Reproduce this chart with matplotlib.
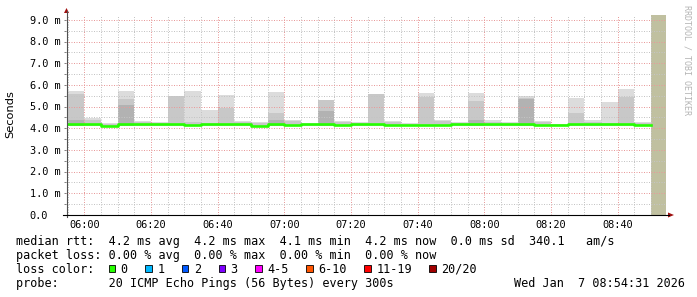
import matplotlib
matplotlib.use("Agg")
import matplotlib.pyplot as plt
import matplotlib.transforms as mtrans
import numpy as np
from matplotlib.patches import Polygon, Rectangle
from matplotlib.lines import Line2D

W, H = 697, 297
plt.rcParams["font.family"] = ["DejaVu Sans Mono"]

# time axis in minutes after 06:00, graph covers 05:54:31 .. 08:54:31
t_start = -5 - 29 / 60.0
t_end = 174 + 31 / 60.0
first_bin = -5          # 05:55, 5 minute steps
unknown_from = 170      # 08:50 -> now has no data yet

# per 5-min bin (05:55 .. 08:45), in ms
median = [4.20, 4.20, 4.13, 4.20, 4.20, 4.20, 4.20, 4.15, 4.20, 4.20,
          4.20, 4.13, 4.20, 4.15, 4.20, 4.20, 4.15, 4.20, 4.20, 4.15,
          4.15, 4.15, 4.17, 4.18, 4.20, 4.20, 4.18, 4.20, 4.15, 4.15,
          4.20, 4.20, 4.20, 4.20, 4.15]
smoke_hi = [5.72, 4.48, 4.25, 5.72, 4.35, 4.28, 5.50, 5.72, 4.85, 5.54,
            4.35, 4.28, 5.68, 4.38, 4.25, 5.31, 4.35, 4.28, 5.58, 4.35,
            4.25, 5.65, 4.38, 4.28, 5.65, 4.38, 4.30, 5.49, 4.32, 4.22,
            5.41, 4.38, 5.23, 5.81, 4.30]
smoke_mid = [5.60, 4.40, 4.22, 5.35, 4.30, 4.25, 5.50, 4.30, 4.25, 4.92,
             4.30, 4.25, 4.69, 4.33, 4.22, 5.31, 4.30, 4.25, 5.58, 4.30,
             4.22, 5.46, 4.33, 4.25, 5.28, 4.30, 4.25, 5.40, 4.28, 4.20,
             4.69, 4.30, 4.25, 5.43, 4.25]
smoke_dark = [4.40, 4.10, 4.10, 5.08, 4.10, 4.10, 4.10, 4.10, 4.10, 4.10,
              4.10, 4.10, 4.38, 4.10, 4.10, 4.80, 4.10, 4.10, 4.10, 4.10,
              4.10, 4.10, 4.10, 4.10, 4.40, 4.10, 4.10, 5.34, 4.10, 4.10,
              4.10, 4.10, 4.10, 4.10, 4.10]
smoke_lo = 4.10

y_max = 9.23
y_labels = ["0.0", "1.0 m", "2.0 m", "3.0 m", "4.0 m", "5.0 m",
            "6.0 m", "7.0 m", "8.0 m", "9.0 m"]
x_labels = ["06:00", "06:20", "06:40", "07:00", "07:20", "07:40",
            "08:00", "08:20", "08:40"]

loss_labels = ["0", "1", "2", "3", "4-5", "6-10", "11-19", "20/20"]
loss_colors = ["#26ff00", "#00b8ff", "#0059ff", "#7e00ff", "#ff00ff",
               "#ff5500", "#ff0000", "#a10000"]

legend_rtt = ("median rtt:  4.2 ms avg  4.2 ms max  4.1 ms min  "
              "4.2 ms now  0.0 ms sd  340.1   am/s")
legend_loss = "packet loss: 0.00 % avg  0.00 % max  0.00 % min  0.00 % now"
legend_probe = "probe:       20 ICMP Echo Pings (56 Bytes) every 300s"
stamp = "Wed Jan  7 08:54:31 2026"


def fx(x):
    return x / W


def fy(y):
    return 1 - y / H


fig = plt.figure(figsize=(W / 100, H / 100), dpi=100)
ax = fig.add_axes([fx(66), fy(215), 600 / W, 200 / H])
ax.set_xlim(t_start, t_end)
ax.set_ylim(0, y_max)
for s in ax.spines.values():
    s.set_visible(False)

n = len(median)
starts = first_bin + 5 * np.arange(n)
hi = np.array(smoke_hi)
mid = np.array(smoke_mid)
dk = np.array(smoke_dark)

# smoke
ax.bar(starts, hi - smoke_lo, bottom=smoke_lo, width=5, align="edge",
       color="#dcdcdc", linewidth=0, zorder=1)
ax.bar(starts, mid - smoke_lo, bottom=smoke_lo, width=5, align="edge",
       color="#c8c8c8", linewidth=0, zorder=1.1)
ax.bar(starts, dk - smoke_lo, bottom=smoke_lo, width=5, align="edge",
       color="#b2b2b2", linewidth=0, zorder=1.2)
ax.axvspan(unknown_from, t_end, color="#c0c0a0", lw=0, zorder=1.3)

# median rtt
edges = np.append(starts, starts[-1] + 5)
ax.step(edges, np.append(median, median[-1]), where="post",
        color=loss_colors[0], lw=1.9, zorder=4)

# grid (drawn over the data like rrdtool does)
ax.set_xticks(np.arange(0, 170, 20))
ax.set_xticks(np.arange(-5, 175, 5), minor=True)
ax.set_yticks(np.arange(0, 9.5, 1.0))
ax.set_yticks(np.arange(0, 9.5, 0.5), minor=True)
ax.set_axisbelow(False)
ax.grid(which="minor", color="#c4c4c4", lw=0.72, ls=(0, (1, 1.5)))
ax.grid(which="major", color="#e89a9a", lw=0.72, ls=(0, (1, 1.5)))
ax.tick_params(axis="x", which="both", length=0, labelbottom=False)
ax.tick_params(axis="y", which="both", direction="out", length=1.5,
               width=0.7, color="#808080", labelleft=False)

# tick labels
ylab_tr = mtrans.offset_copy(ax.get_yaxis_transform(), fig=fig, y=-3.7, units="dots")
for v, lab in zip(np.arange(0, 10, 1.0), y_labels):
    ax.text((29.5 - 66) / 600, v, lab, transform=ylab_tr, ha="left",
            va="baseline", fontsize=7.4, color="#000000")
for v, lab in zip(np.arange(0, 170, 20), x_labels):
    ax.text(v, (215 - 228.3) / 200, lab, transform=ax.get_xaxis_transform(),
            ha="center", va="baseline", fontsize=7.4)

# axes lines and arrows
fig.add_artist(Line2D([fx(66.5), fx(66.5)], [fy(217), fy(11)], color="#505050",
                      lw=0.8, transform=fig.transFigure))
fig.add_artist(Line2D([fx(63), fx(669)], [fy(215), fy(215)], color="#000000",
                      lw=0.8, transform=fig.transFigure))
fig.add_artist(Polygon([[fx(64), fy(13)], [fx(69), fy(13)], [fx(66.5), fy(8)]],
                       closed=True, color="#a01010", lw=0,
                       transform=fig.transFigure))
fig.add_artist(Polygon([[fx(668), fy(212.5)], [fx(668), fy(217.5)], [fx(674), fy(215)]],
                       closed=True, color="#a01010", lw=0,
                       transform=fig.transFigure))

# titles
fig.text(fx(10.5), fy(114), "Seconds", rotation=90, ha="center", va="center",
         fontsize=8.2, family="DejaVu Sans")
fig.text(fx(687.5), fy(5), "RRDTOOL / TOBI OETIKER", rotation=270, ha="center",
         va="top", fontsize=6.0, color="#b4b4b4")

# legend
cw = 7.12
fig.text(fx(16), fy(245), legend_rtt, fontsize=8.5, va="baseline")
fig.text(fx(16), fy(259), legend_loss, fontsize=8.5, va="baseline")
fig.text(fx(16), fy(273), "loss color:", fontsize=8.5, va="baseline")
c = 13.0
for lab, col in zip(loss_labels, loss_colors):
    x0 = 16 + c * cw
    fig.add_artist(Rectangle((fx(x0), fy(271.8)), 6.5 / W, 6.5 / H, facecolor=col,
                             edgecolor="#000000", lw=0.6,
                             transform=fig.transFigure))
    fig.text(fx(x0 + 1.7 * cw), fy(273), lab, fontsize=8.5, va="baseline")
    c += len(lab) + 4.15
fig.text(fx(16), fy(287), legend_probe, fontsize=8.5, va="baseline")
fig.text(fx(16 + 70 * cw), fy(287), stamp, fontsize=8.5, va="baseline")

fig.savefig("out.png", dpi=100)
